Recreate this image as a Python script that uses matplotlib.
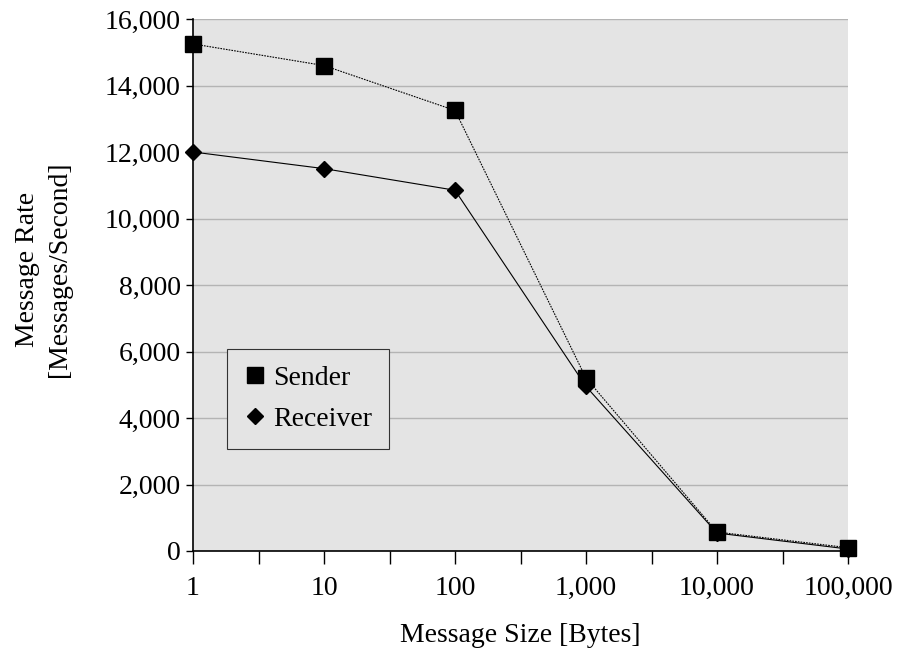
import matplotlib
matplotlib.use("Agg")
import matplotlib.pyplot as plt
from matplotlib.ticker import FixedLocator, FuncFormatter

plt.rcParams['font.family'] = ['Liberation Serif', 'DejaVu Serif']

sizes = [1, 10, 100, 1000, 10000, 100000]
sender = [15250, 14600, 13250, 5200, 570, 100]
receiver = [12000, 11500, 10850, 4950, 540, 60]
x_labels = ["1", "10", "100", "1,000", "10,000", "100,000"]

fig = plt.figure(figsize=(8.99, 6.60), dpi=100)
ax = fig.add_axes([193 / 899, 1 - 551 / 660, (848 - 193) / 899, (551 - 19) / 660])
ax.set_facecolor("#E4E4E4")

ax.set_xscale("log")
ax.set_xlim(1, 100000)
ax.set_ylim(0, 16000)

ax.yaxis.set_major_locator(FixedLocator(range(0, 16001, 2000)))
ax.yaxis.set_major_formatter(FuncFormatter(lambda v, p: f"{int(v):,}"))
ax.grid(axis="y", color="#B4B4B4", linewidth=1.0)
ax.set_axisbelow(True)

ax.xaxis.set_major_locator(FixedLocator(sizes))
ax.set_xticklabels(x_labels)
minor = [10 ** (i + 0.5) for i in range(5)]
ax.xaxis.set_minor_locator(FixedLocator(minor))
ax.xaxis.set_minor_formatter(FuncFormatter(lambda v, p: ""))

ax.plot(sizes, sender, color="black", linestyle=(0, (1.5, 1)), linewidth=0.8,
        marker="s", markersize=11, label="Sender", clip_on=False, zorder=4)
ax.plot(sizes, receiver, color="black", linestyle="-", linewidth=0.8,
        marker="D", markersize=8, label="Receiver", clip_on=False, zorder=3)

for s in ["top", "right"]:
    ax.spines[s].set_visible(False)
for s in ["left", "bottom"]:
    ax.spines[s].set_linewidth(1.2)

ax.tick_params(axis="y", direction="out", length=5, width=1, labelsize=20, pad=4)
ax.tick_params(axis="x", which="both", direction="out", length=9, width=1, pad=9)
ax.tick_params(axis="x", which="major", labelsize=20)

ax.set_xlabel("Message Size [Bytes]", fontsize=20, labelpad=16)
ax.set_ylabel("Message Rate\n[Messages/Second]", fontsize=20, linespacing=1.35)
ax.yaxis.set_label_coords(-0.185, 0.53)

leg = ax.legend(loc="upper left", bbox_to_anchor=((227 - 193) / 655, (551 - 349) / 532),
                fontsize=20, frameon=True, fancybox=False, handletextpad=0.25,
                handlelength=0.8, borderpad=0.6, borderaxespad=0,
                labelspacing=0.55)
leg.get_frame().set_facecolor("#E4E4E4")
leg.get_frame().set_edgecolor("#333333")
leg.get_frame().set_linewidth(0.8)
leg.get_frame().set_alpha(1)
for h in leg.legend_handles:
    h.set_linestyle("none")

fig.savefig("out.png", dpi=100)
